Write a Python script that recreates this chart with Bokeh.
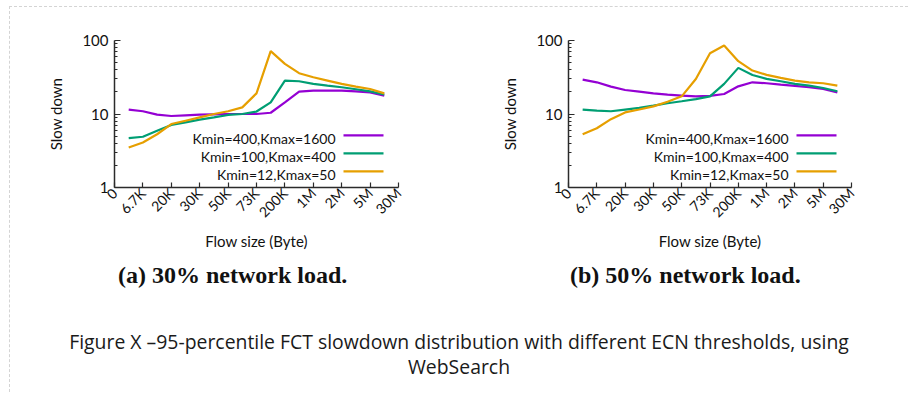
import math
from bokeh.plotting import figure
from bokeh.models import (FixedTicker, Label, BoxAnnotation, Div)
from bokeh.layouts import row, column
from bokeh.embed import file_html
from bokeh.resources import INLINE

# ---------------- data ----------------
tick_labels = ["0", "6.7K", "20K", "30K", "50K", "73K", "200K", "1M", "2M", "5M", "30M"]
# sample positions along the categorical flow-size axis (tick index units)
flow_pos = [0.5, 1.0, 1.5, 2.0, 2.5, 3.0, 3.5, 4.0, 4.5, 5.0,
            5.5, 6.0, 6.5, 7.0, 7.5, 8.0, 8.5, 9.0, 9.5]

series_names = ["Kmin=400,Kmax=1600", "Kmin=100,Kmax=400", "Kmin=12,Kmax=50"]
series_colors = ["#9400D3", "#009E73", "#E69F00"]

# (a) 30% network load
a_k400 = [11.5, 10.9, 9.8, 9.4, 9.6, 9.8, 9.9, 10.0, 10.0, 10.0,
          10.4, 14.4, 20.2, 20.8, 20.8, 20.8, 20.3, 19.7, 17.8]
a_k100 = [4.7, 4.9, 5.9, 7.1, 7.7, 8.4, 9.0, 9.7, 10.0, 10.8,
          14.4, 28.5, 27.9, 25.7, 24.3, 23.1, 21.7, 20.3, 18.4]
a_k12 = [3.5, 4.1, 5.3, 7.3, 8.1, 9.0, 10.0, 10.9, 12.3, 19.1,
         71.6, 48.0, 35.9, 31.6, 28.5, 25.7, 23.6, 21.9, 19.1]

# (b) 50% network load
b_k400 = [29.4, 27.0, 23.6, 21.2, 20.2, 19.1, 18.4, 17.8, 17.4, 17.6,
          18.7, 23.8, 27.0, 26.2, 25.1, 24.1, 23.1, 21.9, 19.7]
b_k100 = [11.5, 11.1, 10.9, 11.5, 12.1, 13.0, 14.0, 14.9, 15.9, 17.4,
          25.7, 42.4, 34.0, 30.0, 27.9, 25.7, 24.3, 22.6, 20.4]
b_k12 = [5.3, 6.4, 8.5, 10.5, 11.5, 12.7, 14.7, 17.4, 30.0, 67.2,
         85.5, 52.3, 39.0, 34.1, 31.0, 28.5, 27.0, 26.2, 24.3]

y_ticks = [1, 10, 100]
y_minor = [2, 3, 4, 5, 6, 7, 8, 9, 20, 30, 40, 50, 60, 70, 80, 90]

FONT = "Lato"
AXIS_COLOR = "#2b2b2b"


def make_panel(series, border_left, frame_w, border_right):
    p = figure(frame_width=frame_w, frame_height=147,
               min_border_left=border_left, min_border_right=border_right,
               min_border_top=33, min_border_bottom=71,
               x_range=(0, 10), y_range=(1, 100), y_axis_type="log",
               output_backend="svg", toolbar_location=None,
               background_fill_color=None, border_fill_color=None)
    p.outline_line_color = None
    p.grid.visible = False

    for vals, col in zip(series, series_colors):
        p.line(flow_pos, vals, line_color=col, line_width=2.2)

    xa = p.xaxis[0]
    xa.ticker = FixedTicker(ticks=list(range(len(tick_labels))))
    xa.major_label_overrides = {i: t for i, t in enumerate(tick_labels)}
    xa.major_label_orientation = math.pi / 4
    xa.major_tick_in = 5
    xa.major_tick_out = 0
    xa.axis_label = "Flow size (Byte)"
    xa.axis_label_text_font_style = "normal"

    ya = p.yaxis[0]
    ya.ticker = FixedTicker(ticks=y_ticks, minor_ticks=y_minor)
    ya.major_label_overrides = {1: "1", 10: "10", 100: "100"}
    ya.major_tick_in = 6
    ya.major_tick_out = 0
    ya.minor_tick_in = 3
    ya.minor_tick_out = 0
    ya.axis_label = "Slow down"
    ya.axis_label_text_font_style = "normal"
    ya.major_label_orientation = "horizontal"

    for ax in (xa, ya):
        ax.axis_line_color = AXIS_COLOR
        ax.axis_line_width = 1.5
        ax.major_tick_line_color = AXIS_COLOR
        ax.major_tick_line_width = 1.2
        ax.minor_tick_line_color = AXIS_COLOR if ax is ya else None
        ax.major_label_text_font = FONT
        ax.major_label_text_color = "#111111"
        ax.axis_label_text_font = FONT
        ax.axis_label_text_color = "#111111"
        ax.axis_label_text_font_size = "15px"
    xa.major_label_text_font_size = "14px"
    ya.major_label_text_font_size = "15px"
    xa.major_label_standoff = 3
    xa.axis_label_standoff = 3
    ya.major_label_standoff = 6
    ya.axis_label_standoff = 14

    # legend: label text right-aligned, line sample to its right (screen units)
    text_right = frame_w - 63
    rows_y = [49, 31, 13]
    for name, col, yy in zip(series_names, series_colors, rows_y):
        p.add_layout(Label(x=text_right, y=yy, x_units="screen", y_units="screen",
                           text=name, text_align="right", text_baseline="middle",
                           text_font=FONT, text_font_size="14px",
                           text_color="#111111"))
        p.add_layout(BoxAnnotation(left=text_right + 8, right=text_right + 48,
                                   bottom=yy + 2, top=yy + 4.2,
                                   left_units="screen", right_units="screen",
                                   top_units="screen", bottom_units="screen",
                                   fill_color=col, fill_alpha=1.0,
                                   line_color=None))
    return p


p1 = make_panel([a_k400, a_k100, a_k12], 104, 284, 70)
p2 = make_panel([b_k400, b_k100, b_k12], 100, 283, 55)

cap_style = ("font-family:'Liberation Serif',serif;font-weight:bold;"
             "font-size:24px;color:#111;text-align:left;line-height:34px;"
             "white-space:nowrap;")
div_a = Div(text=f"<div style=\"{cap_style}padding-left:108px;\">(a) 30% network load.</div>",
            width=448, height=34, margin=0)
div_b = Div(text=f"<div style=\"{cap_style}padding-left:112px;\">(b) 50% network load.</div>",
            width=446, height=34, margin=0)

fig_style = ("font-family:'Open Sans',sans-serif;font-size:19.4px;color:#1a1a1a;"
             "text-align:center;line-height:25px;padding-top:37px;"
             "width:898px;display:block;")
div_cap = Div(text=f"<div style=\"{fig_style}\">Figure X \u201395-percentile FCT slowdown "
                   f"distribution with different ECN thresholds, using<br>WebSearch</div>",
              width=898, height=100, margin=0)

layout = column(row(p1, p2, spacing=0), row(div_a, div_b, spacing=0), div_cap,
                spacing=0, margin=(6, 0, 0, 9),
                styles={"border-top": "1px dashed #d4d4d4",
                        "border-left": "1px dashed #d4d4d4"})

open("out.html", "w").write(file_html(layout, INLINE))
